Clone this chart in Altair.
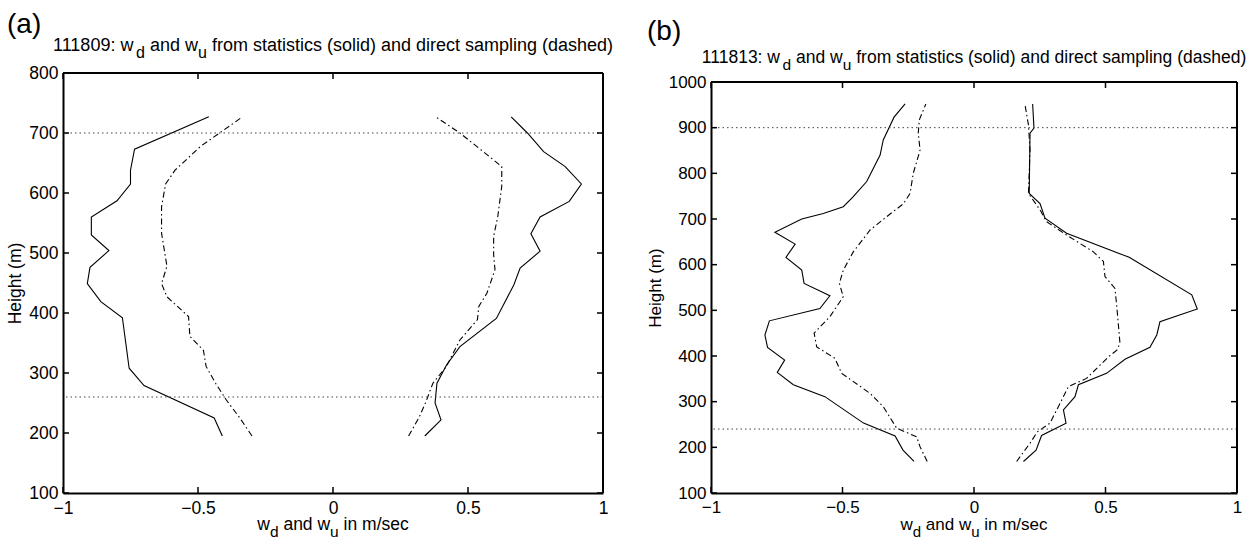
import altair as alt
import pandas as pd

FONT = "Liberation Sans"

# ---------------- data: panel (a), case 111809 ----------------
a_stat_down_h = [195, 225, 279, 308, 392, 419, 449, 476, 504, 530, 560, 587, 615, 638, 673, 727]
a_stat_down_w = [-0.41, -0.44, -0.70, -0.755, -0.78, -0.86, -0.91, -0.90, -0.83, -0.895, -0.895, -0.80, -0.75, -0.75, -0.735, -0.46]
a_samp_down_h = [195, 225, 255, 283, 311, 338, 361, 394, 427, 449, 478, 533, 577, 615, 638, 678, 700, 727]
a_samp_down_w = [-0.30, -0.345, -0.395, -0.435, -0.47, -0.48, -0.53, -0.535, -0.615, -0.635, -0.615, -0.635, -0.635, -0.62, -0.585, -0.49, -0.42, -0.335]
a_stat_up_h = [195, 222, 250, 283, 313, 344, 391, 447, 475, 503, 532, 560, 586, 615, 644, 669, 700, 727]
a_stat_up_w = [0.34, 0.40, 0.378, 0.385, 0.42, 0.47, 0.605, 0.67, 0.693, 0.767, 0.733, 0.767, 0.875, 0.92, 0.86, 0.78, 0.72, 0.66]
a_samp_up_h = [195, 227, 253, 283, 311, 355, 389, 411, 433, 472, 497, 528, 560, 611, 644, 655, 700, 727]
a_samp_up_w = [0.28, 0.32, 0.345, 0.37, 0.42, 0.47, 0.535, 0.54, 0.57, 0.60, 0.595, 0.595, 0.61, 0.625, 0.625, 0.595, 0.47, 0.38]
a_dotted = [260, 700]

# ---------------- data: panel (b), case 111813 ----------------
b_stat_down_h = [169, 194, 225, 253, 311, 337, 364, 391, 419, 446, 477, 504, 532, 559, 588, 616, 645, 671, 700, 712, 727, 749, 782, 840, 873, 923, 952]
b_stat_down_w = [-0.228, -0.27, -0.30, -0.42, -0.567, -0.687, -0.748, -0.72, -0.785, -0.795, -0.778, -0.586, -0.548, -0.646, -0.655, -0.715, -0.68, -0.757, -0.655, -0.573, -0.497, -0.459, -0.408, -0.357, -0.345, -0.304, -0.262]
b_samp_down_h = [169, 201, 223, 242, 289, 318, 362, 395, 420, 450, 486, 530, 559, 588, 628, 676, 711, 733, 756, 800, 851, 888, 917, 952]
b_samp_down_w = [-0.178, -0.205, -0.218, -0.294, -0.345, -0.395, -0.503, -0.529, -0.598, -0.608, -0.548, -0.497, -0.512, -0.497, -0.459, -0.395, -0.319, -0.269, -0.243, -0.231, -0.205, -0.212, -0.208, -0.183]
b_stat_up_h = [169, 194, 226, 253, 282, 311, 337, 362, 393, 419, 446, 475, 503, 534, 616, 669, 702, 734, 756, 888, 899, 952]
b_stat_up_w = [0.188, 0.236, 0.257, 0.35, 0.34, 0.384, 0.397, 0.504, 0.574, 0.669, 0.695, 0.707, 0.849, 0.828, 0.59, 0.352, 0.27, 0.251, 0.21, 0.213, 0.228, 0.223]
b_samp_up_h = [169, 209, 234, 253, 296, 333, 351, 398, 413, 428, 508, 548, 574, 607, 628, 665, 694, 720, 756, 851, 906, 950]
b_samp_up_w = [0.162, 0.213, 0.241, 0.289, 0.327, 0.359, 0.428, 0.511, 0.543, 0.555, 0.543, 0.536, 0.498, 0.492, 0.454, 0.352, 0.276, 0.251, 0.207, 0.213, 0.207, 0.194]
b_dotted = [240, 900]

x_ticks = [-1, -0.5, 0, 0.5, 1]
a_y_ticks = [100, 200, 300, 400, 500, 600, 700, 800]
b_y_ticks = [100, 200, 300, 400, 500, 600, 700, 800, 900, 1000]

# Arial / Liberation Sans advance widths (1/1000 em) for laying out subscripts
ARIAL = {' ': 278, '(': 333, ')': 333, ':': 278, '/': 278, '-': 333, '.': 278,
         'a': 556, 'b': 556, 'c': 500, 'd': 556, 'e': 556, 'f': 278, 'g': 556, 'h': 556,
         'i': 222, 'j': 222, 'k': 500, 'l': 222, 'm': 833, 'n': 556, 'o': 556, 'p': 556,
         'q': 556, 'r': 333, 's': 500, 't': 278, 'u': 556, 'v': 500, 'w': 722, 'x': 500,
         'y': 500, 'z': 500}


def tw(s, size):
    return sum(ARIAL.get(c, 556) for c in s) * size / 1000.0


def rich_text(segments, cx, base_y, size, sub_size, sub_drop):
    """segments: list of (text, is_sub). Centered at cx, main baseline base_y."""
    widths = [tw(t, sub_size if sub else size) for t, sub in segments]
    x = cx - sum(widths) / 2.0
    layers = []
    for (t, sub), w in zip(segments, widths):
        lead = len(t) - len(t.lstrip(' '))
        fs = sub_size if sub else size
        xs = x + tw(' ' * lead, fs)
        txt = t.strip(' ')
        layers.append(
            alt.Chart(pd.DataFrame({'t': [txt]})).mark_text(
                align='left', baseline='alphabetic', font=FONT, fontSize=fs, color='black'
            ).encode(x=alt.value(xs), y=alt.value(base_y + (sub_drop if sub else 0)), text='t:N')
        )
        x += w
    return layers


def panel(case, series, dotted, yticks, ymin, ymax, W, H, top_px, fs, tfs, label, label_dx, label_y, title_y):
    xs = alt.Scale(domain=[-1, 1], nice=False, zero=False)
    ys = alt.Scale(domain=[ymin, ymax], nice=False, zero=False, range=[H, top_px])
    xa = alt.Axis(values=x_ticks, ticks=False, grid=False, title=None, labelPadding=6,
                  labelFontSize=fs, domainWidth=2, labelFlush=False, format='~g')
    ya = alt.Axis(values=yticks, ticks=False, grid=False, title='Height (m)', labelPadding=5,
                  labelFontSize=fs, titleFontSize=fs, domainWidth=2, titlePadding=4,
                  labelFlush=False, format='d')
    layers = []
    # invisible spacer that fixes the overall page size
    if label == '(a)':
        layers.append(alt.Chart(pd.DataFrame({'z': [0]})).mark_rect(opacity=0).encode(
            x=alt.value(-63), x2=alt.value(1197), y=alt.value(-73), y2=alt.value(467)))
    for h, w, dashed in series:
        df = pd.DataFrame({'h': h, 'w': w})
        kw = dict(color='black', strokeWidth=1.1)
        if dashed:
            kw['strokeDash'] = [6, 3, 1.5, 3]
        layers.append(alt.Chart(df).mark_line(**kw).encode(
            x=alt.X('w:Q', scale=xs, axis=xa),
            y=alt.Y('h:Q', scale=ys, axis=ya),
            order='h:Q'))
    # dotted reference heights
    layers.append(alt.Chart(pd.DataFrame({'h': dotted})).mark_rule(
        color='#444444', strokeWidth=1, strokeDash=[1.5, 3]).encode(
        y=alt.Y('h:Q', scale=ys, axis=ya)))
    # frame: top and right
    top = pd.DataFrame({'h': [ymax]})
    layers.append(alt.Chart(top).mark_rule(color='black', strokeWidth=2).encode(
        y=alt.Y('h:Q', scale=ys, axis=ya), x=alt.value(0), x2=alt.value(W)))
    layers.append(alt.Chart(pd.DataFrame({'h': [ymax], 'h2': [ymin]})).mark_rule(
        color='black', strokeWidth=2).encode(
        x=alt.value(W), y=alt.Y('h:Q', scale=ys, axis=ya), y2='h2:Q'))
    # inward ticks
    xt = pd.DataFrame({'w': x_ticks, 'h': [ymax] * len(x_ticks)})
    yt = pd.DataFrame({'h': yticks})
    layers.append(alt.Chart(xt).mark_rule(color='black', strokeWidth=1.5).encode(
        x=alt.X('w:Q', scale=xs, axis=xa), y=alt.value(H), y2=alt.value(H - 6)))
    layers.append(alt.Chart(xt).mark_rule(color='black', strokeWidth=1.5, y2Offset=6).encode(
        x=alt.X('w:Q', scale=xs, axis=xa), y=alt.Y('h:Q', scale=ys, axis=ya), y2='h:Q'))
    layers.append(alt.Chart(yt).mark_rule(color='black', strokeWidth=1.5).encode(
        y=alt.Y('h:Q', scale=ys, axis=ya), x=alt.value(0), x2=alt.value(6)))
    layers.append(alt.Chart(yt).mark_rule(color='black', strokeWidth=1.5).encode(
        y=alt.Y('h:Q', scale=ys, axis=ya), x=alt.value(W - 6), x2=alt.value(W)))
    # title with subscripts
    layers += rich_text([(case + ': w', False), ('d', True), (' and w', False), ('u', True),
                         (' from statistics (solid) and direct sampling (dashed)', False)],
                        W / 2.0, title_y, tfs, tfs - 2, 7)
    # x axis title with subscripts
    layers += rich_text([('w', False), ('d', True), (' and w', False), ('u', True), (' in m/sec', False)],
                        W / 2.0, H + 37, fs, fs - 2, 7)
    # panel label
    layers.append(alt.Chart(pd.DataFrame({'t': [label]})).mark_text(
        align='left', baseline='alphabetic', font=FONT, fontSize=28, color='black').encode(
        x=alt.value(label_dx), y=alt.value(label_y), text='t:N'))
    return alt.layer(*layers).properties(width=W, height=H)


pa = panel('111809',
           [(a_stat_down_h, a_stat_down_w, False), (a_samp_down_h, a_samp_down_w, True),
            (a_stat_up_h, a_stat_up_w, False), (a_samp_up_h, a_samp_up_w, True)],
           a_dotted, a_y_ticks, 100, 800, 540, 420, 0, 17.5, 18, '(a)', -56, -40, -22)
pb = panel('111813',
           [(b_stat_down_h, b_stat_down_w, False), (b_samp_down_h, b_samp_down_w, True),
            (b_stat_up_h, b_stat_up_w, False), (b_samp_up_h, b_samp_up_w, True)],
           b_dotted, b_y_ticks, 100, 1000, 526, 420, 9, 17, 17.5, '(b)', -64, -33, -10)

chart = alt.hconcat(pa, pb, spacing=108, bounds='flush').properties(
    padding=0, background='white'
).configure_view(stroke=None).configure_axis(
    labelFont=FONT, titleFont=FONT, labelColor='black', titleColor='black',
    domainColor='black', titleFontWeight='normal'
)

chart.save("out.html", embed_options={"renderer": "svg", "actions": False})
